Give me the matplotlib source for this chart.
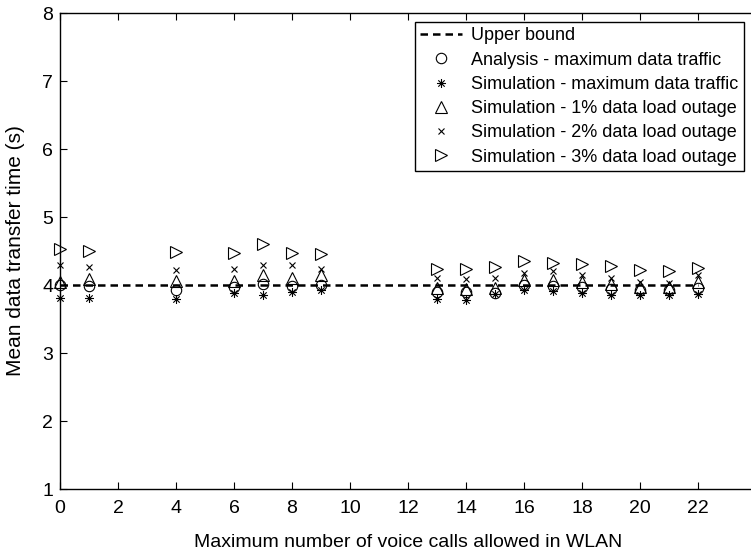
import numpy as np
import matplotlib
matplotlib.use("Agg")
import matplotlib.pyplot as plt
from matplotlib.path import Path

plt.rcParams['font.family'] = ['Liberation Sans', 'DejaVu Sans']

# voice calls allowed in WLAN
calls = [0, 1, 4, 6, 7, 8, 9, 13, 14, 15, 16, 17, 18, 19, 20, 21, 22]
upper_bound = [4.0] * len(calls)

ana_max = [4.00, 3.98, 3.92, 3.97, 4.01, 3.99, 4.00, 3.90, 3.89, 3.88, 4.00, 3.99, 3.97, 3.94, 3.93, 3.92, 3.95]
sim_max = [3.81, 3.81, 3.79, 3.88, 3.85, 3.89, 3.92, 3.80, 3.78, 3.87, 3.93, 3.91, 3.88, 3.85, 3.85, 3.85, 3.87]
sim_1pct = [4.05, 4.09, 4.06, 4.06, 4.14, 4.11, 4.15, 3.95, 3.94, 3.95, 4.07, 4.08, 4.05, 4.02, 3.97, 3.97, 4.04]
sim_2pct = [4.29, 4.27, 4.22, 4.24, 4.30, 4.30, 4.24, 4.10, 4.09, 4.10, 4.17, 4.20, 4.15, 4.10, 4.05, 4.03, 4.14]
sim_3pct = [4.53, 4.50, 4.49, 4.47, 4.60, 4.47, 4.46, 4.23, 4.23, 4.27, 4.36, 4.32, 4.31, 4.28, 4.22, 4.21, 4.25]

# matlab style asterisk: + and x together
r = 0.7071
star = Path([(-1, 0), (1, 0), (0, -1), (0, 1), (-r, -r), (r, r), (-r, r), (r, -r)],
            [Path.MOVETO, Path.LINETO] * 4)

fig = plt.figure(figsize=(7.51, 5.5), dpi=100)
ax = fig.add_axes([60 / 751, 61 / 550, 696 / 751, 476 / 550])

ax.plot(calls, upper_bound, 'k--', linewidth=1.8, dashes=(3, 2), label='Upper bound')
ax.plot(calls, ana_max, linestyle='none', marker='o', markersize=7.5, markerfacecolor='none',
        markeredgecolor='k', markeredgewidth=0.8, clip_on=False, label='Analysis - maximum data traffic')
ax.plot(calls, sim_max, linestyle='none', marker=star, markersize=6.5,
        color='k', markeredgewidth=0.8, clip_on=False, label='Simulation - maximum data traffic')
ax.plot(calls, sim_1pct, linestyle='none', marker='^', markersize=9, markerfacecolor='none',
        markeredgecolor='k', markeredgewidth=0.8, clip_on=False, label='Simulation - 1% data load outage')
ax.plot(calls, sim_2pct, linestyle='none', marker='x', markersize=4.5,
        color='k', markeredgewidth=0.8, clip_on=False, label='Simulation - 2% data load outage')
ax.plot(calls, sim_3pct, linestyle='none', marker='>', markersize=9, markerfacecolor='none',
        markeredgecolor='k', markeredgewidth=0.8, clip_on=False, label='Simulation - 3% data load outage')

ax.set_xlim(0, 24)
ax.set_ylim(1, 8)
ax.set_xticks(np.arange(0, 25, 2))
ax.set_xticklabels([str(v) for v in range(0, 23, 2)] + [''])
ax.set_yticks(np.arange(1, 9, 1))
ax.tick_params(direction='in', top=True, right=False, labelsize=14, length=5, width=0.8)
ax.tick_params(axis='x', pad=8)
ax.tick_params(axis='y', pad=5)
for s in ax.spines.values():
    s.set_linewidth(1.0)

ax.set_xlabel('Maximum number of voice calls allowed in WLAN', fontsize=14, labelpad=12)
ax.set_ylabel('Mean data transfer time (s)', fontsize=15, labelpad=12)

leg = fig.legend(loc='upper left', bbox_to_anchor=(415 / 751, 1 - 22 / 550), fontsize=13,
                 frameon=True, fancybox=False, edgecolor='k', framealpha=1,
                 borderaxespad=0, handlelength=2.3, handletextpad=0.5,
                 labelspacing=0.4, borderpad=0.3)
leg.get_frame().set_linewidth(1.0)

fig.savefig('out.png', dpi=100)
